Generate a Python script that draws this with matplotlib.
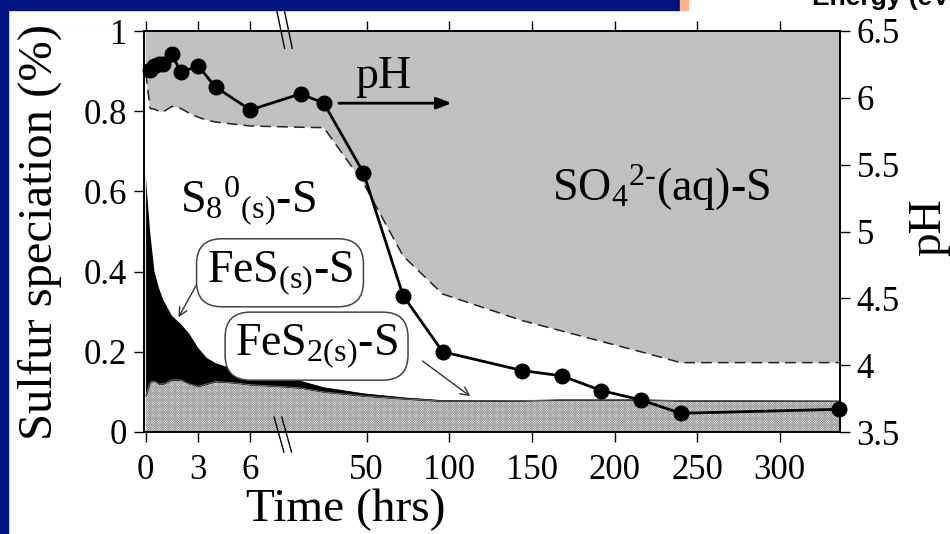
import numpy as np
import matplotlib
matplotlib.use("Agg")
import matplotlib.pyplot as plt
from matplotlib.patches import Rectangle

plt.rcParams['font.family'] = ['Liberation Serif', 'DejaVu Serif']
plt.rcParams['mathtext.fontset'] = 'custom'
plt.rcParams['mathtext.rm'] = 'Liberation Serif'
plt.rcParams['mathtext.default'] = 'regular'
plt.rcParams['hatch.linewidth'] = 0.5
plt.rcParams['hatch.color'] = '#9a9a9a'

# sulfur speciation (fraction of total S)
t_sp = [0, 0.25, 0.5, 0.75, 1, 1.5, 2, 2.5, 3, 3.5, 4, 5, 6, 8,
        10, 24, 48, 72, 96, 144, 168, 192, 216, 240, 336]
fes2 = [0.09, 0.125, 0.127, 0.12, 0.12, 0.13, 0.13, 0.12, 0.114, 0.12, 0.126, 0.123, 0.118, 0.113,
        0.11, 0.10, 0.09, 0.083, 0.077, 0.078, 0.08, 0.08, 0.08, 0.078, 0.077]
fes = [0.55, 0.375, 0.273, 0.24, 0.21, 0.16, 0.14, 0.125, 0.096, 0.065, 0.046, 0.035, 0.03, 0.022,
       0.018, 0.012, 0.007, 0.004, 0.003, 0.002, 0.002, 0.002, 0.002, 0.002, 0.002]
s8 = [0.255, 0.307, 0.405, 0.44, 0.468, 0.522, 0.537, 0.55, 0.575, 0.593, 0.601, 0.61, 0.615, 0.626,
      0.632, 0.647, 0.524, 0.352, 0.264, 0.198, 0.17, 0.144, 0.118, 0.093, 0.094]

# pH
t_ph = [0.25, 0.5, 0.75, 1, 1.5, 2, 3, 4, 6, 10, 24, 48, 72, 96, 144, 168, 192, 216, 240, 336]
ph = [6.21, 6.24, 6.25, 6.25, 6.33, 6.19, 6.24, 6.08, 5.91, 6.03, 5.96, 5.44, 4.52, 4.10,
      3.96, 3.92, 3.81, 3.74, 3.64, 3.67]

xticks = [0, 3, 6, 50, 100, 150, 200, 250, 300]
yticks = [0, 0.2, 0.4, 0.6, 0.8, 1]
yticklabels = ['0', '0.2', '0.4', '0.6', '0.8', '1']
phticks = [3.5, 4, 4.5, 5, 5.5, 6, 6.5]
phticklabels = ['3.5', '4', '4.5', '5', '5.5', '6', '6.5']

# broken time axis: 0-8 h stretched, then linear hours
K1, K2, B, TB = 17.45, 1.652, 138.4, 8.0


def fwd(t):
    t = np.asarray(t, float)
    return np.where(t <= TB, t * K1, B + t * K2)


def inv(u):
    u = np.asarray(u, float)
    return np.where(u <= TB * K1, u / K1,
                    np.where(u < B + TB * K2, TB, (u - B) / K2))


fig = plt.figure(figsize=(9.5, 5.34), dpi=100)

# slide decoration
fig.patches.append(Rectangle((0, 0), 8 / 950, 1, transform=fig.transFigure,
                             color='#00127e', zorder=0))
fig.patches.append(Rectangle((0, 1 - 10 / 534), 680 / 950, 10 / 534, transform=fig.transFigure,
                             color='#00127e', zorder=0))
fig.patches.append(Rectangle((680 / 950, 1 - 10 / 534), 8 / 950, 10 / 534, transform=fig.transFigure,
                             color='#ffb584', zorder=0))
fig.text(812 / 950, 1 - 5 / 534, 'Energy (eV)', family='Liberation Sans', weight='bold',
         fontsize=19, va='baseline', ha='left')

ax = fig.add_axes([144 / 950, 1 - 432 / 534, 696 / 950, 401 / 534])
ax.set_xscale('function', functions=(fwd, inv))
ax.set_xlim(-0.1, 336.5)
ax.set_ylim(0, 1)

t = np.array(t_sp)
c1 = np.array(fes2)
c2 = c1 + np.array(fes)
c3 = c2 + np.array(s8)

ax.fill_between(t, 0, c1, facecolor='#f4f4f4', edgecolor='#9a9a9a', hatch='x' * 14, lw=0)
ax.plot(t, c1, color='#777777', lw=0.6)
ax.fill_between(t, c1, c2, facecolor='black', lw=0.5, edgecolor='black')
ax.fill_between(t, c2, c3, facecolor='white', lw=0)
ax.fill_between(t, c3, 1, facecolor='#c0c0c0', lw=0)
ax.plot(t, c3, color='#222222', lw=1.1, dashes=(7, 4))

ax.set_xticks(xticks)
ax.set_xticklabels([str(v) for v in xticks])
ax.set_yticks(yticks)
ax.set_yticklabels(yticklabels)
ax.tick_params(axis='x', direction='out', length=7, width=1, labelsize=25, pad=9, top=True)
ax.tick_params(axis='y', direction='out', length=7, width=1, labelsize=25, pad=5)
for s in ax.spines.values():
    s.set_linewidth(1.2)

ax.set_xlabel('Time (hrs)', fontsize=34)
ax.xaxis.set_label_coords(0.29, -0.142)
ax.set_ylabel('Sulfur speciation (%)', fontsize=35)
ax.yaxis.set_label_coords(-0.118, 0.5)

ax2 = ax.twinx()
ax2.set_ylim(3.5, 6.5)
ax2.plot(t_ph, ph, color='black', lw=2, marker='o', ms=10.5, clip_on=False, zorder=5)
ax2.set_yticks(phticks)
ax2.set_yticklabels(phticklabels)
ax2.tick_params(axis='y', direction='out', length=7, width=1, labelsize=25, pad=5)
ax2.set_ylabel('pH', fontsize=34)
ax2.yaxis.set_label_coords(1.098, 0.51)
for s in ax2.spines.values():
    s.set_linewidth(1.2)

# axis break marks
for x0 in (0.190, 0.201):
    ax.plot([x0, x0 + 0.012], [1.057, 0.957], transform=ax.transAxes, color='black',
            lw=1, clip_on=False, zorder=6)
    ax.plot([x0 - 0.003, x0 + 0.011], [0.037, -0.050], transform=ax.transAxes, color='black',
            lw=1, clip_on=False, zorder=6)

# labels
ax2.text(0.303, 0.858, 'pH', transform=ax.transAxes, fontsize=33)
ax2.annotate('', xy=(0.446, 0.82), xytext=(0.276, 0.82), xycoords='axes fraction',
             arrowprops=dict(arrowstyle='-|>,head_length=0.9,head_width=0.35', color='black', lw=2))
ax2.text(0.586, 0.575, r'SO$_4$$^{2\text{-}}$(aq)-S', transform=ax.transAxes, fontsize=33)
ax2.text(0.052, 0.547, r'S$_8$$^0$$_{(s)}$-S', transform=ax.transAxes, fontsize=33)

box = dict(boxstyle='round,pad=0.22,rounding_size=0.55', fc='white', ec='#444444', lw=1.1)
ax2.text(0.090, 0.375, r'FeS$_{(s)}$-S', transform=ax.transAxes, fontsize=33, bbox=box, zorder=7)
ax2.text(0.131, 0.192, r'FeS$_{2(s)}$-S', transform=ax.transAxes, fontsize=33, bbox=box, zorder=7)
ax.annotate('', xy=(1.8, 0.28), xytext=(0.078, 0.375), textcoords='axes fraction',
            arrowprops=dict(arrowstyle='->,head_length=0.6,head_width=0.3', color='#333333', lw=1))
ax.annotate('', xy=(114, 0.085), xytext=(0.397, 0.181), textcoords='axes fraction',
            arrowprops=dict(arrowstyle='->,head_length=0.6,head_width=0.3', color='#333333', lw=1))

fig.savefig('out.png', dpi=100)
